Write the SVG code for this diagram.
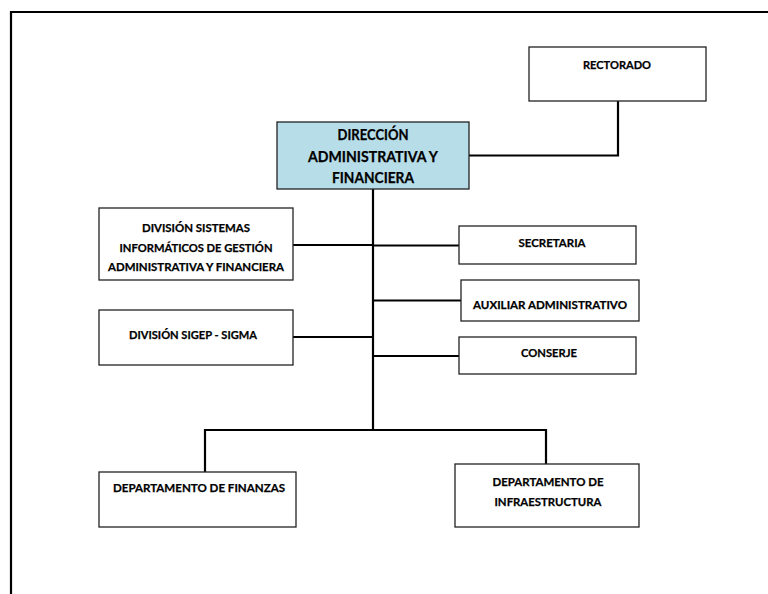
<svg xmlns="http://www.w3.org/2000/svg" width="768" height="594" viewBox="0 0 768 594">
<style>
.box{fill:#fff;stroke:#222;stroke-width:1.3}
.main{fill:#b7dde8;stroke:#222;stroke-width:1.3}
text{font-family:Lato,"Liberation Sans",sans-serif;font-weight:bold;fill:#000;stroke:#000;stroke-width:0.25;text-anchor:middle}
.s{font-size:11.5px}
.b{font-size:14.5px}
.c{fill:none;stroke:#000;stroke-width:2.2}
</style>
<rect width="768" height="594" fill="#fff"/>
<path d="M11 594 V12 H768" fill="none" stroke="#000" stroke-width="2.2"/>
<g id="connectors">
<path class="c" d="M469 155.5 H618 V101"/>
<path class="c" d="M373 189 V430"/>
<path class="c" d="M293 245 H373"/>
<path class="c" d="M373 245.5 H459"/>
<path class="c" d="M373 300.5 H461"/>
<path class="c" d="M293 337 H373"/>
<path class="c" d="M373 356 H459"/>
<path class="c" d="M205 472 V430 H546 V464"/>
</g>
<g id="rectorado">
<rect class="box" x="529" y="47" width="177" height="54"/>
<text class="s" x="617" y="69" textLength="68" lengthAdjust="spacingAndGlyphs">RECTORADO</text>
</g>
<g id="direccion">
<rect class="main" x="277" y="122" width="192" height="67"/>
<text class="b" x="373" y="140" textLength="71" lengthAdjust="spacingAndGlyphs">DIRECCIÓN</text>
<text class="b" x="373" y="162" textLength="130" lengthAdjust="spacingAndGlyphs">ADMINISTRATIVA Y</text>
<text class="b" x="373" y="183" textLength="82" lengthAdjust="spacingAndGlyphs">FINANCIERA</text>
</g>
<g id="div-sistemas">
<rect class="box" x="99" y="208" width="194" height="72"/>
<text class="s" x="196" y="232" textLength="108" lengthAdjust="spacingAndGlyphs">DIVISIÓN SISTEMAS</text>
<text class="s" x="196" y="252" textLength="153" lengthAdjust="spacingAndGlyphs">INFORMÁTICOS DE GESTIÓN</text>
<text class="s" x="196" y="271" textLength="176" lengthAdjust="spacingAndGlyphs">ADMINISTRATIVA Y FINANCIERA</text>
</g>
<g id="div-sigep">
<rect class="box" x="99" y="310" width="194" height="55"/>
<text class="s" x="193" y="339" textLength="128" lengthAdjust="spacingAndGlyphs">DIVISIÓN SIGEP - SIGMA</text>
</g>
<g id="secretaria">
<rect class="box" x="459" y="226" width="177" height="38"/>
<text class="s" x="552" y="247" textLength="67" lengthAdjust="spacingAndGlyphs">SECRETARIA</text>
</g>
<g id="auxiliar">
<rect class="box" x="461" y="280" width="178" height="41"/>
<text class="s" x="550" y="309" textLength="154" lengthAdjust="spacingAndGlyphs">AUXILIAR ADMINISTRATIVO</text>
</g>
<g id="conserje">
<rect class="box" x="459" y="337" width="177" height="37"/>
<text class="s" x="549" y="357" textLength="56" lengthAdjust="spacingAndGlyphs">CONSERJE</text>
</g>
<g id="finanzas">
<rect class="box" x="99" y="472" width="197" height="55"/>
<text class="s" x="199" y="492" textLength="172" lengthAdjust="spacingAndGlyphs">DEPARTAMENTO DE FINANZAS</text>
</g>
<g id="infraestructura">
<rect class="box" x="455" y="464" width="184" height="63"/>
<text class="s" x="548" y="486" textLength="111" lengthAdjust="spacingAndGlyphs">DEPARTAMENTO DE</text>
<text class="s" x="548" y="506" textLength="107" lengthAdjust="spacingAndGlyphs">INFRAESTRUCTURA</text>
</g>
</svg>
